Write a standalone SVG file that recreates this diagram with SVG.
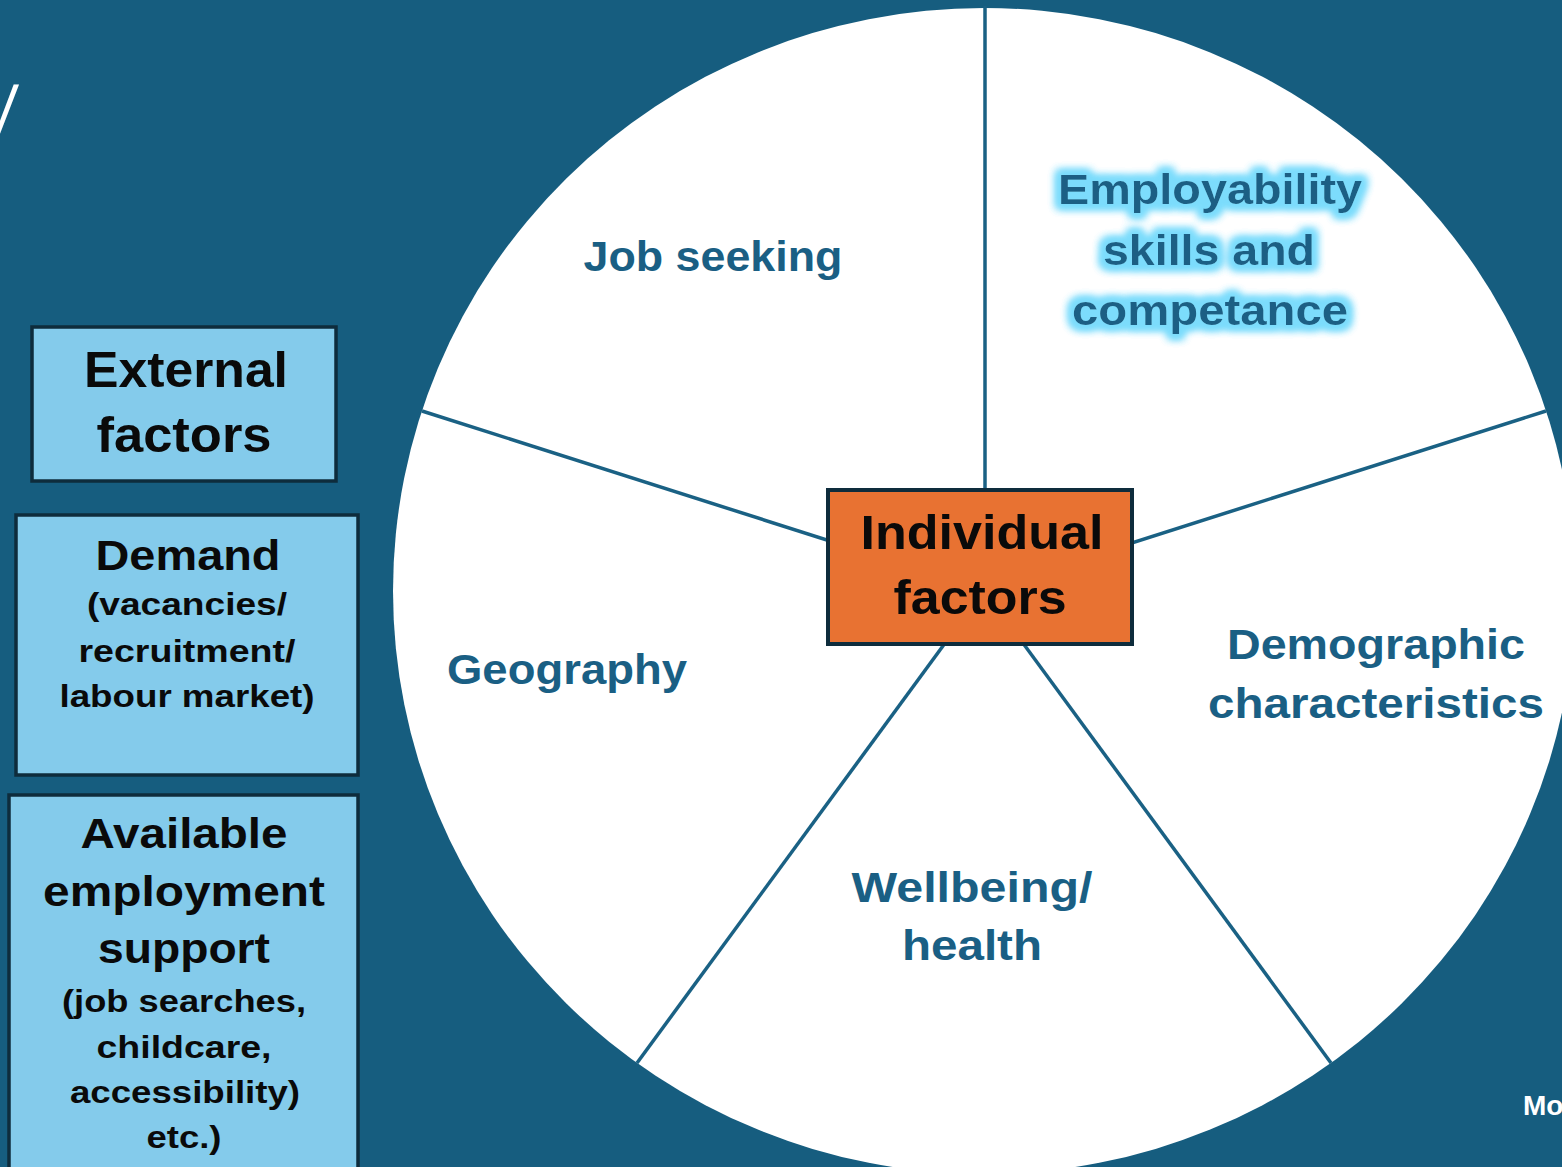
<svg xmlns="http://www.w3.org/2000/svg" width="1562" height="1167" viewBox="0 0 1562 1167">
  <defs>
    <style>
      .bg { fill: #165d7f; }
      .spoke { stroke: #1a6184; stroke-width: 3.5; fill: none; }
      .ext { fill: #84cbeb; stroke: #0e2c3c; stroke-width: 3.5; }
      .core { fill: #e87232; stroke: #0e2c3c; stroke-width: 4; }
      .dark { font-family: "Liberation Sans", Arial, sans-serif; font-weight: 700; fill: #0a0a0a; text-anchor: middle; }
      .seg { font-family: "Liberation Sans", Arial, sans-serif; font-weight: 700; fill: #1a5f84; text-anchor: middle; font-size: 42px; }
      .white { font-family: "Liberation Sans", Arial, sans-serif; font-weight: 700; fill: #ffffff; }
    </style>
    <!-- soft cyan halo behind the employability label -->
    <filter id="halo" x="-20%" y="-40%" width="140%" height="180%">
      <feMorphology in="SourceAlpha" operator="dilate" radius="4" result="fat"/>
      <feGaussianBlur in="fat" stdDeviation="4.5" result="soft"/>
      <feFlood flood-color="#7cdcfc"/>
      <feComposite in2="soft" operator="in" result="glow"/>
      <feMerge>
        <feMergeNode in="glow"/>
        <feMergeNode in="glow"/>
        <feMergeNode in="glow"/>
        <feMergeNode in="SourceGraphic"/>
      </feMerge>
    </filter>
  </defs>

  <!-- background -->
  <rect class="bg" x="0" y="0" width="1562" height="1167"/>

  <!-- cut-off title fragment and footer -->
  <text x="-27" y="138" font-family="'Open Sans', sans-serif" font-weight="300" font-size="100" fill="#ffffff">y</text>
  <text class="white" x="1523" y="1115" font-size="28">Mo</text>

  <!-- wheel -->
  <g id="wheel">
    <ellipse cx="984" cy="591" rx="591" ry="583" fill="#ffffff"/>
  </g>

  <!-- spokes dividing the wheel into five segments -->
  <g id="connectors">
    <line class="spoke" x1="985" y1="590" x2="985" y2="6"/>
    <line class="spoke" x1="984" y1="590" x2="422" y2="411"/>
    <line class="spoke" x1="984" y1="590" x2="1546" y2="411"/>
    <line class="spoke" x1="984" y1="590" x2="637" y2="1063"/>
    <line class="spoke" x1="984" y1="590" x2="1331" y2="1063"/>
  </g>

  <!-- wheel segment labels -->
  <g id="job-seeking">
    <text class="seg" x="713" y="271" textLength="259" lengthAdjust="spacingAndGlyphs">Job seeking</text>
  </g>
  <g id="employability" filter="url(#halo)">
    <text class="seg" x="1210" y="204" textLength="304" lengthAdjust="spacingAndGlyphs">Employability</text>
    <text class="seg" x="1209" y="265" textLength="212" lengthAdjust="spacingAndGlyphs">skills and</text>
    <text class="seg" x="1210" y="325" textLength="276" lengthAdjust="spacingAndGlyphs">competance</text>
  </g>
  <g id="geography">
    <text class="seg" x="567" y="684" textLength="240" lengthAdjust="spacingAndGlyphs">Geography</text>
  </g>
  <g id="demographic">
    <text class="seg" x="1376" y="659" textLength="298" lengthAdjust="spacingAndGlyphs">Demographic</text>
    <text class="seg" x="1376" y="718" textLength="336" lengthAdjust="spacingAndGlyphs">characteristics</text>
  </g>
  <g id="wellbeing">
    <text class="seg" x="972" y="902" textLength="241" lengthAdjust="spacingAndGlyphs">Wellbeing/</text>
    <text class="seg" x="972" y="960" textLength="140" lengthAdjust="spacingAndGlyphs">health</text>
  </g>

  <!-- centre node -->
  <g id="individual-factors">
    <rect class="core" x="828" y="490" width="304" height="154"/>
    <text class="dark" x="982" y="549" font-size="48" textLength="243" lengthAdjust="spacingAndGlyphs">Individual</text>
    <text class="dark" x="980" y="614" font-size="48" textLength="173" lengthAdjust="spacingAndGlyphs">factors</text>
  </g>

  <!-- external factor boxes -->
  <g id="external-factors">
    <rect class="ext" x="32" y="327" width="304" height="154"/>
    <text class="dark" x="186" y="387" font-size="50" textLength="204" lengthAdjust="spacingAndGlyphs">External</text>
    <text class="dark" x="184" y="452" font-size="50" textLength="175" lengthAdjust="spacingAndGlyphs">factors</text>
  </g>

  <g id="demand">
    <rect class="ext" x="16" y="515" width="342" height="260"/>
    <text class="dark" x="188" y="570" font-size="42" textLength="185" lengthAdjust="spacingAndGlyphs">Demand</text>
    <text class="dark" x="187" y="615" font-size="31" textLength="200" lengthAdjust="spacingAndGlyphs">(vacancies/</text>
    <text class="dark" x="187" y="662" font-size="31" textLength="217" lengthAdjust="spacingAndGlyphs">recruitment/</text>
    <text class="dark" x="187" y="707" font-size="31" textLength="255" lengthAdjust="spacingAndGlyphs">labour market)</text>
  </g>

  <g id="employment-support">
    <rect class="ext" x="9" y="795" width="349" height="390"/>
    <text class="dark" x="184" y="848" font-size="42" textLength="207" lengthAdjust="spacingAndGlyphs">Available</text>
    <text class="dark" x="184" y="906" font-size="42" textLength="282" lengthAdjust="spacingAndGlyphs">employment</text>
    <text class="dark" x="184" y="963" font-size="42" textLength="172" lengthAdjust="spacingAndGlyphs">support</text>
    <text class="dark" x="184" y="1012" font-size="31" textLength="244" lengthAdjust="spacingAndGlyphs">(job searches,</text>
    <text class="dark" x="184" y="1058" font-size="31" textLength="175" lengthAdjust="spacingAndGlyphs">childcare,</text>
    <text class="dark" x="185" y="1103" font-size="31" textLength="230" lengthAdjust="spacingAndGlyphs">accessibility)</text>
    <text class="dark" x="184" y="1148" font-size="31" textLength="75" lengthAdjust="spacingAndGlyphs">etc.)</text>
  </g>
</svg>
